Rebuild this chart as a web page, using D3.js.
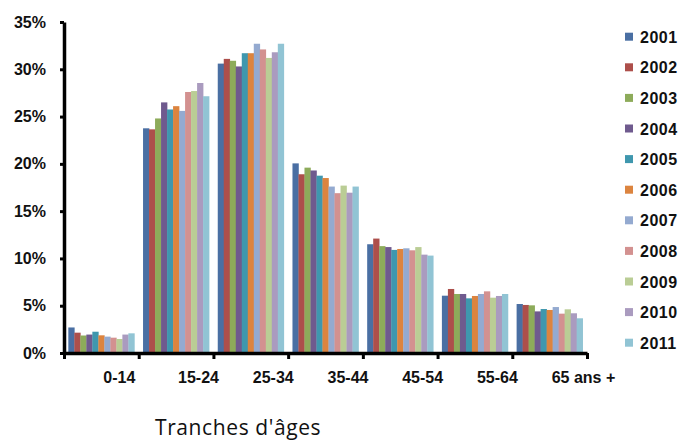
<!DOCTYPE html>
<html>
<head>
<meta charset="utf-8">
<script src="https://d3js.org/d3.v7.min.js"></script>
<style>
  body { margin: 0; background: #fff; }
  svg text { font-family: "Liberation Sans", Arial, sans-serif; fill: #111; }
</style>
</head>
<body>
<div id="chart"></div>
<script>
// Tranches d'âges (categories) and years (series)
var categories = ["0-14", "15-24", "25-34", "35-44", "45-54", "55-64", "65 ans +"];
var years = ["2001", "2002", "2003", "2004", "2005", "2006", "2007", "2008", "2009", "2010", "2011"];

// share per age band, one array per year (fraction)
var y2001 = [0.027, 0.2376, 0.306, 0.2005, 0.115, 0.0606, 0.0518];
var y2002 = [0.0215, 0.2365, 0.311, 0.189, 0.121, 0.0677, 0.0508];
var y2003 = [0.0185, 0.248, 0.309, 0.196, 0.113, 0.0624, 0.0504];
var y2004 = [0.0195, 0.265, 0.303, 0.193, 0.112, 0.0624, 0.044];
var y2005 = [0.0225, 0.2575, 0.317, 0.1875, 0.109, 0.0578, 0.0465];
var y2006 = [0.0187, 0.261, 0.317, 0.185, 0.110, 0.0603, 0.0455];
var y2007 = [0.0173, 0.256, 0.327, 0.176, 0.1107, 0.0624, 0.0486];
var y2008 = [0.0162, 0.276, 0.321, 0.169, 0.1086, 0.0652, 0.0416];
var y2009 = [0.0148, 0.277, 0.312, 0.177, 0.112, 0.0585, 0.0462];
var y2010 = [0.0195, 0.2855, 0.318, 0.1695, 0.104, 0.0603, 0.042];
var y2011 = [0.0208, 0.2715, 0.327, 0.176, 0.103, 0.0624, 0.0367];
var series = [y2001, y2002, y2003, y2004, y2005, y2006, y2007, y2008, y2009, y2010, y2011];

var colors = ["#4a6fa3", "#ad4f4b", "#8dab5a", "#6f5a8e", "#3f97ae", "#dc843f",
              "#94aad0", "#d39190", "#bacd95", "#aa9bbf", "#91c4d4"];
var yTicks = [0, 0.05, 0.10, 0.15, 0.20, 0.25, 0.30, 0.35];

var width = 681, height = 440;
var plotLeft = 64, plotRight = 587, plotTop = 22, plotBottom = 353;

var svg = d3.select("#chart").append("svg")
  .attr("width", width)
  .attr("height", height);

var x0 = d3.scaleBand()
  .domain(categories)
  .range([plotLeft, plotRight])
  .paddingInner(0)
  .paddingOuter(0);

var x1 = d3.scaleBand()
  .domain(years)
  .range([0, x0.bandwidth()])
  .paddingOuter(0.72);

var y = d3.scaleLinear()
  .domain([0, 0.35])
  .range([plotBottom, plotTop]);

// bars
var groups = svg.append("g").selectAll("g")
  .data(categories)
  .enter().append("g")
  .attr("transform", function(d) { return "translate(" + x0(d) + ",0)"; });

groups.selectAll("rect")
  .data(function(d, i) {
    return years.map(function(yr, j) { return { year: yr, value: series[j][i], color: colors[j] }; });
  })
  .enter().append("rect")
  .attr("x", function(d) { return x1(d.year); })
  .attr("width", x1.bandwidth() + 0.3)
  .attr("y", function(d) { return y(d.value); })
  .attr("height", function(d) { return plotBottom - y(d.value); })
  .attr("fill", function(d) { return d.color; });

// y axis
var yAxis = svg.append("g")
  .attr("transform", "translate(" + plotLeft + ",0)")
  .call(d3.axisLeft(y).tickValues(yTicks).tickFormat(d3.format(".0%")).tickSizeInner(4).tickSizeOuter(0).tickPadding(14));
yAxis.select(".domain").attr("stroke", "#000").attr("stroke-width", 3.5);
yAxis.selectAll(".tick line").attr("stroke", "#000").attr("stroke-width", 3);
yAxis.selectAll("text")
  .style("font-size", "16px")
  .style("font-weight", "bold")
  .style("font-family", "'Liberation Sans', Arial, sans-serif")
  .attr("fill", "#111");

// x axis: tick marks at band boundaries
var xEdges = d3.scaleLinear().domain([0, categories.length]).range([plotLeft, plotRight]);
var xAxis = svg.append("g")
  .attr("transform", "translate(0," + plotBottom + ")")
  .call(d3.axisBottom(xEdges).ticks(categories.length).tickFormat("").tickSizeInner(6).tickSizeOuter(0));
xAxis.select(".domain").attr("stroke", "#000").attr("stroke-width", 3.5);
xAxis.selectAll(".tick line").attr("stroke", "#000").attr("stroke-width", 3);

// category labels, starting at band centre
svg.append("g").selectAll("text")
  .data(categories)
  .enter().append("text")
  .attr("x", function(d) { return x0(d) + x0.bandwidth() / 2 + 2; })
  .attr("y", 383)
  .style("font-size", "16px")
  .style("font-weight", "bold")
  .text(function(d) { return d; });

// axis title
svg.append("text")
  .attr("x", 155)
  .attr("y", 435)
  .style("font-family", "'Open Sans', sans-serif")
  .style("font-size", "21px")
  .style("letter-spacing", "0.6px")
  .text("Tranches d'âges");

// legend
var legend = svg.append("g").selectAll("g")
  .data(years)
  .enter().append("g")
  .attr("transform", function(d, i) { return "translate(625," + (36.7 + i * 30.6) + ")"; });

legend.append("rect")
  .attr("x", 0)
  .attr("y", -4)
  .attr("width", 8)
  .attr("height", 8)
  .attr("fill", function(d, i) { return colors[i]; });

legend.append("text")
  .attr("x", 15)
  .attr("y", 6)
  .style("font-size", "16px")
  .style("font-weight", "bold")
  .style("letter-spacing", "0.5px")
  .text(function(d) { return d; });
</script>
</body>
</html>
